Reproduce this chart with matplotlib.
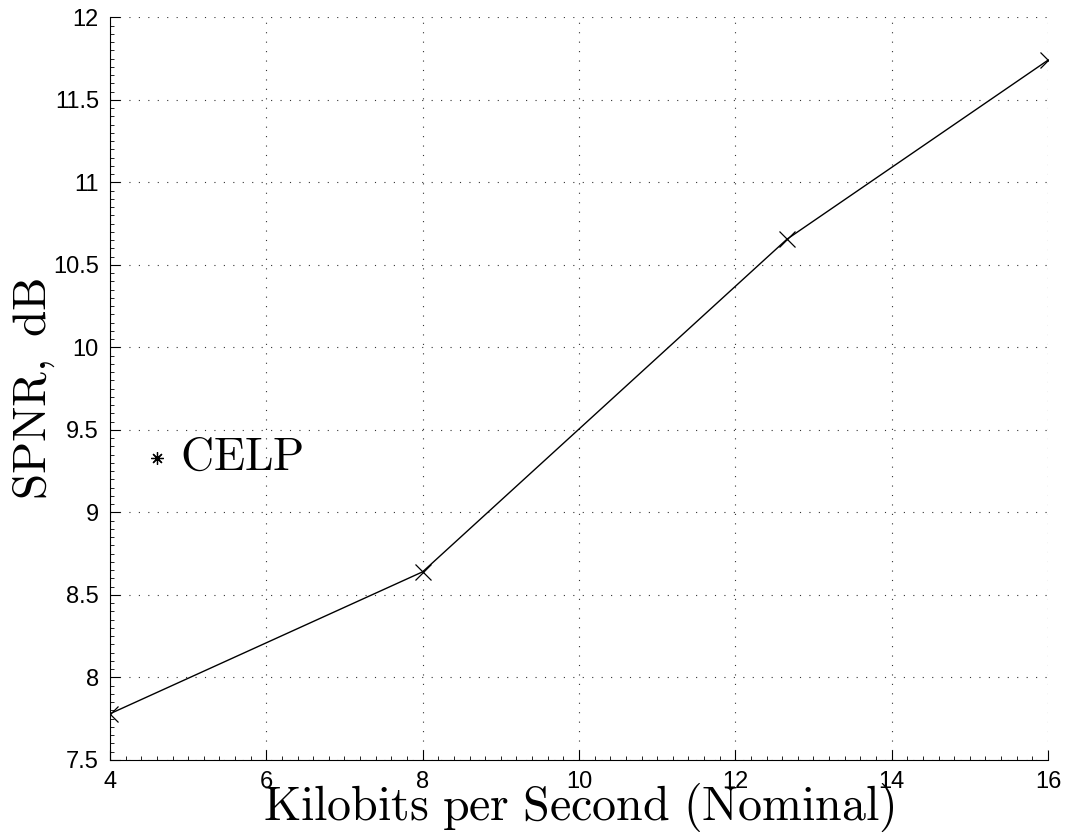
import matplotlib
matplotlib.use("Agg")
import matplotlib.pyplot as plt
from matplotlib.ticker import MultipleLocator

plt.rcParams['mathtext.fontset'] = 'cm'
plt.rcParams['font.family'] = ['Liberation Sans', 'DejaVu Sans']

# data
kbps = [4, 8, 12.66, 16]
spnr = [7.78, 8.64, 10.655, 11.74]
x_ticks = [4, 6, 8, 10, 12, 14, 16]
y_ticks = [7.5, 8, 8.5, 9, 9.5, 10, 10.5, 11, 11.5, 12]
y_tick_labels = ['7.5', '8', '8.5', '9', '9.5', '10', '10.5', '11', '11.5', '12']
celp_pos = (4.6, 9.33)

fig = plt.figure(figsize=(10.7, 8.39), dpi=100)
ax = fig.add_axes([0.1028, 0.0942, 0.8766, 0.8852])

ax.plot(kbps, spnr, color='black', linewidth=1.0, marker='x',
        markersize=11, markeredgewidth=0.9)

# legend-like annotation
ax.plot([celp_pos[0]], [celp_pos[1]], marker=(8, 2, 0), color='black',
        markersize=9, markeredgewidth=0.9, linestyle='none')
ax.text(celp_pos[0] + 0.3, celp_pos[1], r'$\mathrm{CELP}$', fontsize=33,
        va='center', ha='left')

ax.set_xlim(4, 16)
ax.set_ylim(7.5, 12)
ax.set_xticks(x_ticks)
ax.set_yticks(y_ticks)
ax.set_yticklabels(y_tick_labels)
ax.xaxis.set_minor_locator(MultipleLocator(0.2))
ax.yaxis.set_minor_locator(MultipleLocator(0.05))
ax.tick_params(which='major', direction='in', length=7, width=0.8,
               labelsize=17, pad=8)
ax.tick_params(which='minor', direction='in', length=3, width=0.6)

ax.spines['top'].set_visible(False)
ax.spines['right'].set_visible(False)
ax.grid(True, which='major', linestyle=(0, (1, 7.5)), color='#333333',
        linewidth=0.8)

ax.set_xlabel(r'$\mathrm{Kilobits\ per\ Second\ (Nominal)}$', fontsize=34.5,
              labelpad=-9)
ax.set_ylabel(r'$\mathrm{SPNR,\ dB}$', fontsize=34, labelpad=-3)

fig.savefig('out.png', dpi=100)
